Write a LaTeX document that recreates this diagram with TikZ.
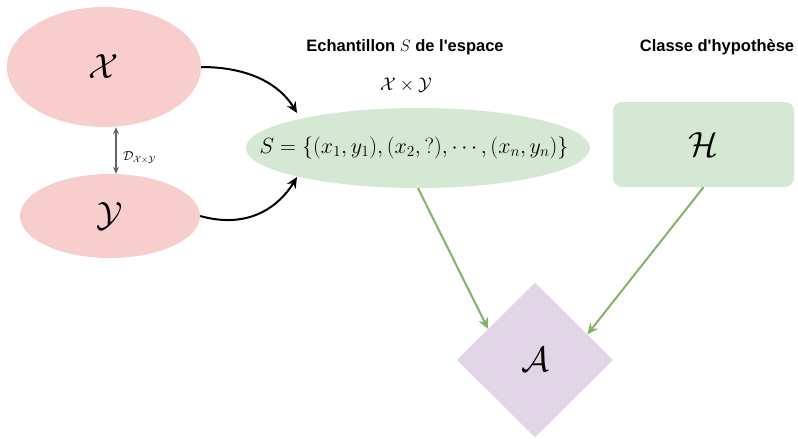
\RequirePackage{fix-cm}
\documentclass[tikz,border=0pt]{standalone}
\usepackage{fontspec}
\newfontfamily\titlefont{Liberation Sans}
\usetikzlibrary{shapes.geometric,arrows.meta,calc}
\definecolor{pinkfill}{HTML}{F8CECC}
\definecolor{greenfill}{HTML}{D5E8D4}
\definecolor{purplefill}{HTML}{E1D5E7}
\definecolor{greenline}{HTML}{82B366}
\definecolor{grayline}{HTML}{666666}
\tikzset{
  pinkell/.style={ellipse, fill=pinkfill, draw=none, inner sep=0pt},
  greenell/.style={ellipse, fill=greenfill, draw=none, inner sep=0pt},
  hbox/.style={rectangle, rounded corners=9pt, fill=greenfill, draw=none, inner sep=0pt},
  algo/.style={diamond, fill=purplefill, draw=none, inner sep=0pt, aspect=1},
  title/.style={font=\titlefont\bfseries\fontsize{16.5}{18}\selectfont},
  bigmath/.style={font=\fontsize{35}{35}\selectfont},
  blackarrow/.style={-{Stealth[length=11pt,width=10pt]}, line width=2pt, black},
  greenarrow/.style={-{Stealth[length=11pt,width=10pt]}, line width=2pt, greenline},
  grayarrow/.style={{Stealth[length=7pt,width=6pt]}-{Stealth[length=7pt,width=6pt]}, line width=1.6pt, grayline},
}
\begin{document}
\begin{tikzpicture}[x=1pt,y=-1pt]
\useasboundingbox (0,0) rectangle (798,439);
\node[pinkell, bigmath, minimum width=194pt, minimum height=120pt] (X) at (104,67) {$\mathcal{X}$};
\node[pinkell, bigmath, minimum width=180pt, minimum height=84pt] (Y) at (110,216) {$\mathcal{Y}$};
\node[greenell, minimum width=344pt, minimum height=80pt,
  label={[font=\fontsize{22}{22}\selectfont, xshift=-4pt]center:$S=\{(x_1,y_1),(x_2,?),\cdots,(x_n,y_n)\}$}] (S) at (418,148) {};
\node[hbox, bigmath, minimum width=181pt, minimum height=85pt] (H) at (703.5,144.5) {$\mathcal{H}$};
\node[algo, bigmath, minimum width=156pt, minimum height=155pt] (A) at (535,360) {$\mathcal{A}$};
\node[title] (t1) at (405,47) {Echantillon $S$ de l'espace};
\node (t1b) at (406,85) {\fontsize{18.3}{18.3}\selectfont$\mathcal{X}\times\mathcal{Y}$};
\node[title] (t2) at (717,47) {Classe d'hypoth\`ese};
\draw[grayarrow] (X.south -| 116,0) -- (Y.north -| 116,0) node[midway, right, black, xshift=3pt, yshift=-7pt] {\fontsize{13}{13}\selectfont$\mathcal{D}_{\mathcal{X}\times\mathcal{Y}}$};
\draw[blackarrow] (X.east) .. controls (250,67) and (280,85) .. (297,113);
\draw[blackarrow] (Y.east) .. controls (250,230) and (280,205) .. (297,177);
\draw[greenarrow] (S.south) -- ($(A.west)!0.4!(A.north)$);
\draw[greenarrow] (H.south) -- ($(A.north)!0.67!(A.east)$);
\end{tikzpicture}
\end{document}
